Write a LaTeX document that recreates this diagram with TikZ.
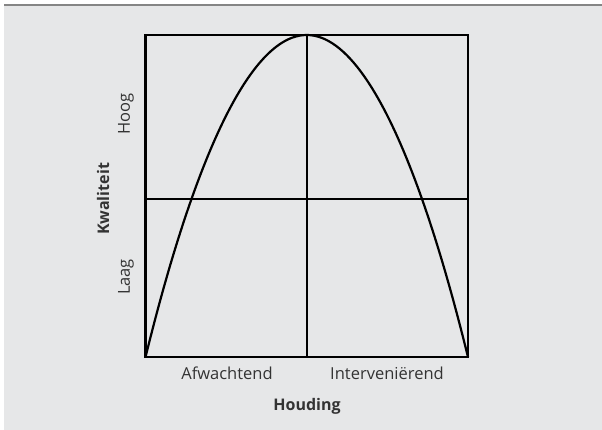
\documentclass[tikz,border=0pt]{standalone}
\usepackage{fontspec}
\setmainfont{Open Sans}
\definecolor{bggray}{HTML}{E6E7E8}
\definecolor{rulegray}{HTML}{858585}
\definecolor{txt}{HTML}{333333}
\begin{document}
\begin{tikzpicture}[x=1pt,y=-1pt,
  axis/.style={line width=2.2pt,black},
  lbl/.style={text=txt,font=\fontsize{16.5}{18}\selectfont,inner sep=0pt},
  ttl/.style={text=txt,font=\fontsize{16}{18}\selectfont\bfseries,inner sep=0pt}]
\useasboundingbox (0,0) rectangle (602,430);
\fill[white] (0,0) rectangle (602,430);
\fill[bggray] (4,5) rectangle (602,430);
\draw[rulegray,line width=2pt] (4,5) -- (602,5);
% chart frame
\coordinate (bl) at (145.5,357);
\coordinate (br) at (468,357);
\coordinate (tl) at (145.5,35);
\coordinate (tr) at (468,35);
\coordinate (top) at (306.7,35);
\coordinate (bot) at (306.7,357);
\coordinate (ml) at (145.5,199);
\coordinate (mr) at (468,199);
\draw[axis] (bl) rectangle (tr);
\draw[axis] (top) -- (bot);
\draw[axis] (ml) -- (mr);
\draw[axis,line join=round] (bl) parabola bend (top) (br);
% labels
\node[lbl,rotate=90] (hoog) at (126,114) {Hoog};
\node[lbl,rotate=90] (laag) at (126,277) {Laag};
\node[ttl,rotate=90] (kw) at (103,199) {Kwaliteit};
\node[lbl] (afw) at (227,373) {Afwachtend};
\node[lbl] (int) at (387,373) {Interveniërend};
\node[ttl] (hou) at (307,406) {Houding};
\end{tikzpicture}
\end{document}
